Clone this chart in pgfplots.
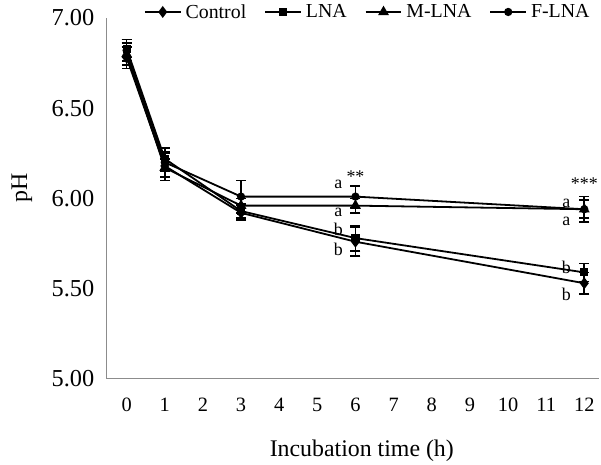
\documentclass[border=0pt]{standalone}
\usepackage{fontspec}
\setmainfont{Liberation Serif}
\usepackage{pgfplots}
\pgfplotsset{compat=1.18}
\definecolor{axisgray}{HTML}{8C8C8C}

\begin{document}
\begin{tikzpicture}
\begin{axis}[
  scale only axis,
  width=494bp, height=362bp,
  xmin=-0.523, xmax=12.392,
  ymin=5, ymax=7,
  xtick={0,1,...,12},
  ytick={5,5.5,6,6.5,7},
  yticklabel style={/pgf/number format/fixed, /pgf/number format/fixed zerofill,
    /pgf/number format/precision=2},
  /pgf/number format/assume math mode=true,
  axis x line=bottom, axis y line=left,
  axis line style={axisgray, line width=1.2bp, -},
  major tick length=0pt,
  xticklabel style={font=\fontsize{20.5}{22}\selectfont, yshift=-16bp},
  yticklabel style={font=\fontsize{24.5}{26}\selectfont, xshift=-9bp},
  xlabel={Incubation time (h)},
  ylabel={pH},
  label style={font=\fontsize{24}{26}\selectfont},
  xlabel style={at={(rel axis cs:0.518,0)}, anchor=center, yshift=-72bp},
  ylabel style={at={(rel axis cs:0,0.53)}, anchor=center, rotate=0, yshift=85bp},
  clip=false,
  legend columns=4,
  legend style={draw=none, fill=none, font=\fontsize{20}{22}\selectfont,
    at={(rel axis cs:0.53,1)}, anchor=center, yshift=6bp,
    /tikz/every odd column/.append style={column sep=2bp},
    /tikz/every even column/.append style={column sep=16bp}},
  legend image code/.code={\draw[mark repeat=2,mark phase=2] plot coordinates {(0bp,0bp)(18bp,0bp)(36bp,0bp)};},
  every axis plot/.append style={black, line width=1.8bp, mark options={solid}},
  error bars/y dir=both, error bars/y explicit,
  error bars/error bar style={line width=1.6bp},
  error bars/error mark options={rotate=90, mark size=5bp, line width=1.6bp},
]
\addplot[mark=diamond*, mark size=4.5bp] coordinates {
  (0,6.78) +- (0,0.06) (1,6.18) +- (0,0.08) (3,5.92) +- (0,0.04) (6,5.76) +- (0,0.08) (12,5.53) +- (0,0.06)};
\addlegendentry{Control}
\addplot[mark=square*, mark size=3.2bp] coordinates {
  (0,6.83) +- (0,0.05) (1,6.22) +- (0,0.06) (3,5.93) +- (0,0.04) (6,5.78) +- (0,0.07) (12,5.59) +- (0,0.05)};
\addlegendentry{LNA}
\addplot[mark=triangle*, mark size=4.5bp] coordinates {
  (0,6.80) +- (0,0.06) (1,6.17) +- (0,0.05) (3,5.96) +- (0,0.04) (6,5.96) +- (0,0.04) (12,5.94) +- (0,0.07)};
\addlegendentry{M-LNA}
\addplot[mark=*, mark size=3.2bp] coordinates {
  (0,6.82) +- (0,0.06) (1,6.20) +- (0,0.05) (3,6.01) +- (0,0.09) (6,6.01) +- (0,0.06) (12,5.94) +- (0,0.05)};
\addlegendentry{F-LNA}
\begin{scope}[font=\fontsize{18}{20}\selectfont]
\node at (axis cs:5.55,6.08) {a};
\node at (axis cs:5.55,5.92) {a};
\node at (axis cs:5.55,5.83) {b};
\node at (axis cs:5.55,5.72) {b};
\node at (axis cs:6,6.12) {**};
\node at (axis cs:11.53,5.97) {a};
\node at (axis cs:11.53,5.87) {a};
\node at (axis cs:11.53,5.62) {b};
\node at (axis cs:11.53,5.47) {b};
\node at (axis cs:12,6.08) {***};
\end{scope}
\end{axis}
\useasboundingbox ([xshift=-107bp,yshift=-84bp]current axis.south west) rectangle ([yshift=18bp]current axis.north east);
\end{tikzpicture}
\end{document}
